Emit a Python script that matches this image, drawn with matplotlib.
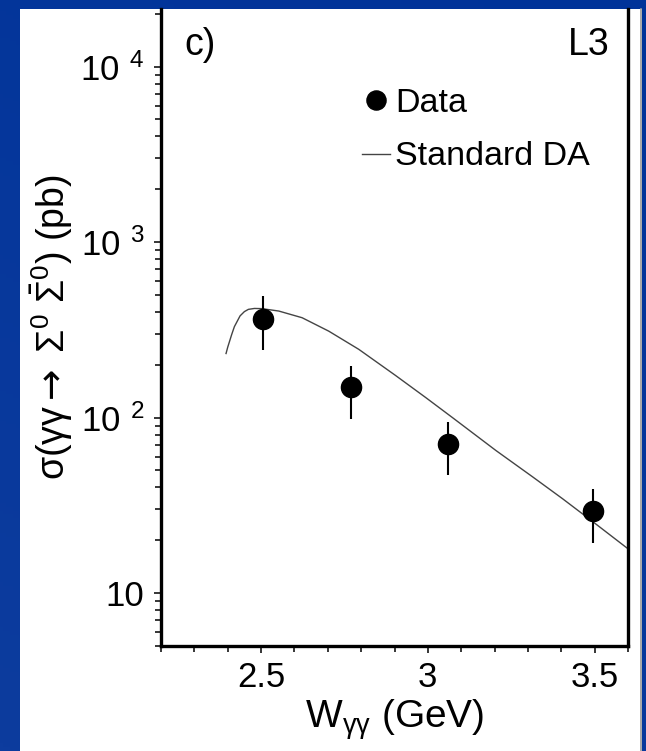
#!/usr/bin/env python3
# -*- coding: utf-8 -*-
"""
L3 sigma(gg -> Sigma0 Sigma0bar) vs W_gg, panel c), on a slide-style blue background.
"""

import numpy as np
import matplotlib
matplotlib.use("Agg")
import matplotlib.pyplot as plt
from matplotlib.patches import Rectangle
from matplotlib.lines import Line2D
from matplotlib.ticker import FixedLocator, MultipleLocator, LogLocator, NullFormatter

# ---------- data ----------
w_data = [2.505, 2.769, 3.060, 3.495]
sig_data = [366, 150, 71, 29.5]
sig_lo = [242, 98, 47, 19.4]
sig_hi = [493, 198, 94, 39.4]

w_curve = [2.395, 2.400, 2.412, 2.420, 2.437, 2.450, 2.462, 2.480, 2.502, 2.553,
           2.623, 2.703, 2.793, 2.903, 2.994, 3.074, 3.204, 3.314, 3.404, 3.495, 3.600]
sig_curve = [232, 252, 298, 330, 380, 402, 414, 419, 418, 405,
             371, 311, 245, 174, 130, 100, 65.0, 46.0, 34.5, 25.5, 17.9]

xticks = [2.5, 3.0, 3.5]
xticklabels = ["2.5", "3", "3.5"]
yticks = [10, 100, 1000, 10000]
yticklabels = ["10", r"10$^{\ \,2}$", r"10$^{\ \,3}$", r"10$^{\ \,4}$"]

# ---------- style ----------
plt.rcParams["font.family"] = ["Liberation Sans", "DejaVu Sans"]
plt.rcParams["mathtext.fontset"] = "custom"
plt.rcParams["mathtext.rm"] = "Liberation Sans"
plt.rcParams["mathtext.it"] = "Liberation Sans"
plt.rcParams["mathtext.bf"] = "Liberation Sans:bold"
plt.rcParams["mathtext.sf"] = "DejaVu Sans"   # only used for the arrow

W, H = 646, 751
fig = plt.figure(figsize=(W / 100, H / 100), dpi=100)
fig.patch.set_facecolor("#033399")

# slight blue gradient behind everything
bg = fig.add_axes([0, 0, 1, 1], zorder=-10)
gy, gx = np.mgrid[0:1:200j, 0:1:200j]
grad = 0.35 * gy + 0.15 * (1 - gx)
bg.imshow(grad, cmap=matplotlib.colors.LinearSegmentedColormap.from_list(
    "b", ["#003399", "#0d3c9e"]), aspect="auto", extent=[0, 1, 0, 1])
bg.set_axis_off()

# white panel
fig.add_artist(Rectangle((20 / W, 0), 622 / W, 742 / H, transform=fig.transFigure,
                         facecolor="white", edgecolor="none", zorder=-5))
fig.add_artist(Line2D([641 / W, 641 / W], [0, 742 / H], transform=fig.transFigure,
                      color="#9a9a9a", lw=1.2, zorder=-4))

ax = fig.add_axes([161 / W, 105 / H, 467 / W, 637 / H])
ax.set_facecolor("none")
ax.set_yscale("log")
ax.set_xlim(2.2, 3.6)
ax.set_ylim(5.0, 2.13e4)

for side in ("left", "bottom", "right"):
    ax.spines[side].set_linewidth(2.4)
ax.spines["top"].set_visible(False)

# data + model
yerr = [np.array(sig_data) - np.array(sig_lo), np.array(sig_hi) - np.array(sig_data)]
ax.errorbar(w_data, sig_data, yerr=yerr, fmt="none", ecolor="black",
            elinewidth=1.5, capsize=0, zorder=3)
pts, = ax.plot(w_data, sig_data, "o", color="black", markersize=14.5,
               linestyle="none", zorder=4, label="Data")
ln, = ax.plot(w_curve, sig_curve, color="#444444", lw=1.0, zorder=2,
              label="Standard DA", clip_on=False)

# ticks
ax.xaxis.set_major_locator(FixedLocator(xticks))
ax.set_xticklabels(xticklabels)
ax.xaxis.set_minor_locator(MultipleLocator(0.1))
ax.yaxis.set_major_locator(FixedLocator(yticks))
ax.set_yticklabels(yticklabels)
ax.yaxis.set_minor_locator(LogLocator(base=10, subs=np.arange(2, 10)))
ax.yaxis.set_minor_formatter(NullFormatter())
ax.tick_params(which="both", direction="out", width=1.1, right=False, top=False)
ax.tick_params(which="major", length=5)
ax.tick_params(which="minor", length=4)
ax.tick_params(axis="x", labelsize=25, pad=6)
ax.tick_params(axis="y", labelsize=25, pad=7)

ax.set_xlabel(r"W$_{\gamma\gamma}$ (GeV)", fontsize=28, labelpad=2)
ax.set_ylabel(r"σ(γγ$\mathsf{\rightarrow}$ Σ$^{0}$ $\bar{\Sigma}^{0}$) (pb)",
              fontsize=27, labelpad=4)

ax.text(0.051, 0.928, "c)", transform=ax.transAxes, fontsize=27, ha="left", va="baseline")
ax.text(0.961, 0.928, "L3", transform=ax.transAxes, fontsize=27, ha="right", va="baseline")

leg = ax.legend(handles=[pts, ln], loc="upper left", bbox_to_anchor=(0.43, 0.876),
                frameon=False, fontsize=24.5, handlelength=0.82, handletextpad=0.15,
                labelspacing=0.66, borderpad=0, borderaxespad=0, markerscale=0.95)

fig.savefig("out.png", dpi=100, facecolor=fig.get_facecolor())
